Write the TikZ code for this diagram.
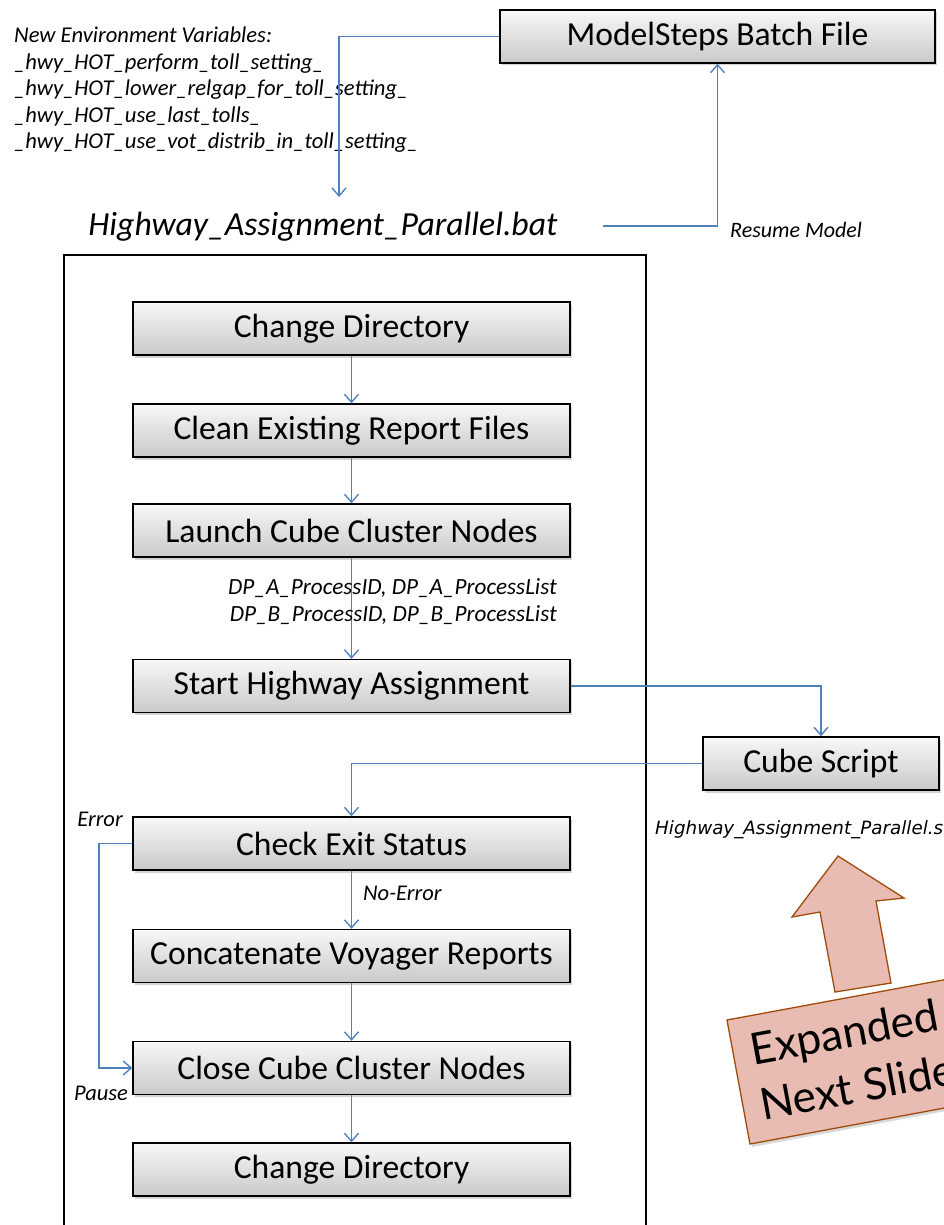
\documentclass[tikz,border=0pt]{standalone}
\usepackage{fontspec}
\setmainfont{Carlito}
\newfontfamily\dejavu{DejaVu Sans}
\newfontfamily\gill{Lato}
\usetikzlibrary{arrows.meta,shadows}
\definecolor{flowblue}{RGB}{79,129,189}
\definecolor{pinkfill}{RGB}{232,188,178}
\definecolor{brownline}{RGB}{160,75,10}
\tikzset{
  stepbox/.style={draw=black, line width=1.4pt, top color=gray!6, bottom color=gray!42,
    drop shadow={shadow xshift=2pt, shadow yshift=-2.5pt, opacity=0.35},
    minimum width=437pt, minimum height=53pt, inner sep=0pt,
    font=\fontsize{33.6}{36}\selectfont},
  flow/.style={draw=flowblue, line width=1.4pt, -{Straight Barb[length=8pt,width=14pt]}},
  lbl/.style={font=\fontsize{22.5}{26}\selectfont\itshape, inner sep=0pt}
}
\begin{document}
\begin{tikzpicture}[x=1pt,y=-1pt]
\useasboundingbox (0,0) rectangle (944,1225);
% outer frame
\draw[line width=1.5pt] (64,255) rectangle (646,1245);
% top
\node[stepbox, minimum width=435pt] (ms) at (717.5,36.5) {ModelSteps Batch File};
\node[lbl, anchor=west, align=left, font=\fontsize{22.6}{26.5}\selectfont\itshape] (env) at (14,90)
 {New Environment Variables:\\\_hwy\_HOT\_perform\_toll\_setting\_\\\_hwy\_HOT\_lower\_relgap\_for\_toll\_setting\_\\\_hwy\_HOT\_use\_last\_tolls\_\\\_hwy\_HOT\_use\_vot\_distrib\_in\_toll\_setting\_};
\node[inner sep=0pt, font=\fontsize{33.7}{36}\selectfont\itshape] (bat) at (323,227) {Highway\_Assignment\_Parallel.bat};
\coordinate (bt) at (339,197);
\coordinate (rs) at (603,226);
\draw[flow] (ms.west) -| (bt);
\draw[flow] (rs) -| (ms.south);
\node[lbl, anchor=west, font=\fontsize{22}{24}\selectfont\itshape] (resume) at (730,230) {Resume Model};
% steps
\node[stepbox] (cd1) at (351.5,328.5) {Change Directory};
\node[stepbox] (clean) at (351.5,430.5) {Clean Existing Report Files};
\node[stepbox] (launch) at (351.5,530.5) {Launch Cube Cluster Nodes};
\node[stepbox] (start) at (351.5,686) {Start Highway Assignment};
\node[stepbox] (check) at (351.5,843.5) {Check Exit Status};
\node[stepbox] (concat) at (351.5,956) {Concatenate Voyager Reports};
\node[stepbox] (close) at (351.5,1068) {Close Cube Cluster Nodes};
\node[stepbox] (cd2) at (351.5,1169.5) {Change Directory};
\node[stepbox, minimum width=236pt] (cs) at (821,763.5) {Cube Script};
\draw[flow] (cd1.south) -- (clean.north);
\draw[flow] (clean.south) -- (launch.north);
\draw[flow] (launch.south) -- (start.north);
\draw[flow] (start.east) -| (cs.north);
\draw[flow] (cs.west) -| (check.north);
\draw[flow] (check.south) -- (concat.north);
\draw[flow] (concat.south) -- (close.north);
\draw[flow] (close.south) -- (cd2.north);
\coordinate (eb) at (99,843.5);
\draw[flow] (check.west) -- (eb) |- (close.west);
\node[lbl, anchor=east, font=\fontsize{23.2}{26}\selectfont\itshape] (dpa) at (557,588) {DP\_A\_ProcessID, DP\_A\_ProcessList};
\node[lbl, anchor=east, font=\fontsize{23.2}{26}\selectfont\itshape] (dpb) at (557,615) {DP\_B\_ProcessID, DP\_B\_ProcessList};
\node[lbl] (err) at (100,819) {Error};
\node[lbl] (pause) at (101,1093) {Pause};
\node[lbl, anchor=west] (noerr) at (363,893) {No-Error};
\node[inner sep=0pt, anchor=west, font=\dejavu\fontsize{18.3}{20}\selectfont\itshape] (csfile) at (655,830) {Highway\_Assignment\_Parallel.s};
% callout
\filldraw[fill=pinkfill, draw=brownline, line width=1.3pt]
  (838,856) -- (904,898) -- (876,901) -- (891,983) -- (835,992) -- (820,912) -- (792,917) -- cycle;
\filldraw[fill=pinkfill, draw=brownline, line width=1.3pt, drop shadow={shadow xshift=2pt, shadow yshift=-3pt, opacity=0.3}]
  (727,1020) -- (1051,960) -- (1074,1084) -- (750,1144) -- cycle;
\node[inner sep=0pt, anchor=west, rotate=10.5, align=left, font=\gill\fontsize{44}{56}\selectfont] (exp) at (755,1077) {Expanded\\Next Slide};
\end{tikzpicture}
\end{document}
